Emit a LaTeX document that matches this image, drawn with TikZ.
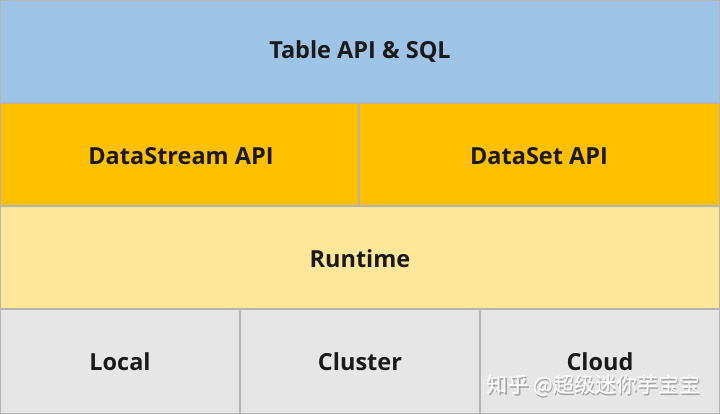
\documentclass[tikz,border=0pt]{standalone}
\usepackage{fontspec}
\setmainfont{Open Sans}
\newfontfamily\cjk{Noto Sans CJK SC}
\definecolor{cblue}{HTML}{9DC3E6}
\definecolor{corange}{HTML}{FFC000}
\definecolor{cyellow}{HTML}{FFE699}
\definecolor{cgray}{HTML}{E7E6E6}
\definecolor{cline}{HTML}{B4B4B4}
\definecolor{ctext}{HTML}{1A1A1A}
\begin{document}
\begin{tikzpicture}[x=1pt,y=-1pt,
  cell/.style={draw=cline,line width=1.2pt},
  lbl/.style={font=\bfseries\fontsize{23.5}{28}\selectfont,text=ctext},
  wmark/.style={font=\cjk\fontsize{21}{25}\selectfont}]
\useasboundingbox (0,0) rectangle (720,414);
\path[cell,fill=cblue] (0,0) rectangle (720,103);
\path[cell,fill=corange] (0,103) rectangle (359,206);
\path[cell,fill=corange] (359,103) rectangle (720,206);
\path[cell,fill=cyellow] (0,206) rectangle (720,309);
\path[cell,fill=cgray] (0,309) rectangle (240,414);
\path[cell,fill=cgray] (240,309) rectangle (480,414);
\path[cell,fill=cgray] (480,309) rectangle (720,414);
\node[lbl] (t) at (360,52) {Table API \& SQL};
\node[lbl] (ds) at (181,156) {DataStream API};
\node[lbl] (dset) at (539,156) {DataSet API};
\node[lbl] (rt) at (360,259) {Runtime};
\node[lbl] (lo) at (120,362) {Local};
\node[lbl] (cl) at (360,362) {Cluster};
\node[lbl] (cd) at (600,362) {Cloud};
\node[wmark,text=gray!70] at (595,387) {知乎 @超级迷你芋宝宝};
\node[wmark,text=white] (wm) at (593.5,385.5) {知乎 @超级迷你芋宝宝};
\end{tikzpicture}
\end{document}
